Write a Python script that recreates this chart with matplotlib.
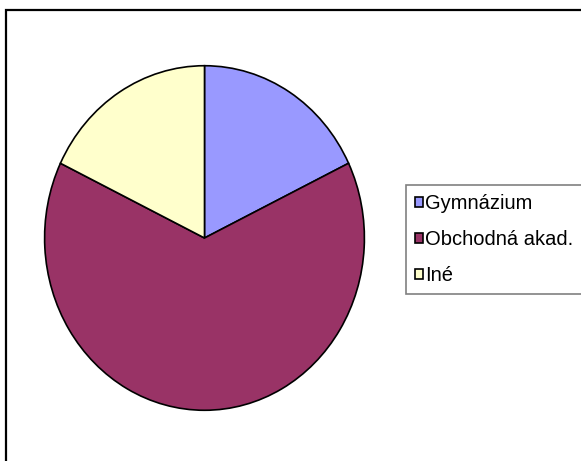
import matplotlib.pyplot as plt
from matplotlib.patches import Rectangle

# === Data ===
labels = ["Gymnázium", "Obchodná akad.", "Iné"]
values = [5, 18, 5]
colors = ["#9999FF", "#993366", "#FFFFCC"]

W, H = 581, 461
fig = plt.figure(figsize=(W / 100, H / 100), dpi=100)
fig.patch.set_facecolor("white")

# outer chart border (cut off at right/bottom like the original)
fig.patches.append(Rectangle((6 / W, -0.1), 1.2, 1 - 10 / H + 0.1,
                             transform=fig.transFigure, fill=False,
                             edgecolor="black", linewidth=1.6))

# === Pie (slightly squashed horizontally, as in the original) ===
left, right, top, bottom = 43, 366, 64, 412
ax = fig.add_axes([left / W, (H - bottom) / H, (right - left) / W, (bottom - top) / H])
wedges, _ = ax.pie(values, colors=colors, startangle=90, counterclock=False,
                   wedgeprops=dict(edgecolor="black", linewidth=1.2))
ax.set_aspect("auto")
ax.set_xlim(-1.01, 1.01)
ax.set_ylim(-1.01, 1.01)
ax.axis("off")

# === Legend ===
leg = fig.legend(wedges, labels, loc="upper left",
                 bbox_to_anchor=(406 / W, 1 - 185 / H), borderaxespad=0,
                 prop={"family": "Liberation Sans", "size": 14.5},
                 fancybox=False, framealpha=1, edgecolor="#808080",
                 handlelength=0.38, handleheight=0.38, handletextpad=0.12,
                 labelspacing=0.85, borderpad=0.45)
leg.get_frame().set_linewidth(1.2)

fig.savefig("out.png", dpi=100)
